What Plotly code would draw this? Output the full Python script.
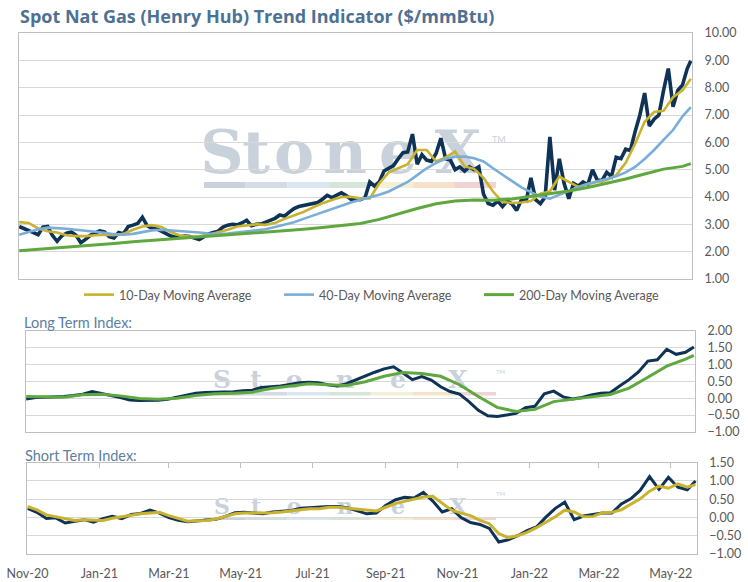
import plotly.graph_objects as go

W, H = 748, 582

# ---------------- data ----------------
dates = [
 "2020-11-01","2020-11-05","2020-11-09","2020-11-13","2020-11-17","2020-11-21","2020-11-25","2020-11-29",
 "2020-12-03","2020-12-07","2020-12-11","2020-12-15","2020-12-19","2020-12-23","2020-12-27","2020-12-31",
 "2021-01-04","2021-01-08","2021-01-12","2021-01-16","2021-01-20","2021-01-24","2021-01-28",
 "2021-02-01","2021-02-05","2021-02-09","2021-02-13","2021-02-17","2021-02-21","2021-02-25",
 "2021-03-01","2021-03-05","2021-03-09","2021-03-13","2021-03-17","2021-03-21","2021-03-25","2021-03-29",
 "2021-04-02","2021-04-06","2021-04-10","2021-04-14","2021-04-18","2021-04-22","2021-04-26","2021-04-30",
 "2021-05-04","2021-05-08","2021-05-12","2021-05-16","2021-05-20","2021-05-24","2021-05-28",
 "2021-06-01","2021-06-05","2021-06-09","2021-06-13","2021-06-17","2021-06-21","2021-06-25","2021-06-29",
 "2021-07-03","2021-07-07","2021-07-11","2021-07-15","2021-07-19","2021-07-23","2021-07-27","2021-07-31",
 "2021-08-04","2021-08-08","2021-08-12","2021-08-16","2021-08-20","2021-08-24","2021-08-28",
 "2021-09-01","2021-09-05","2021-09-09","2021-09-13","2021-09-17","2021-09-21","2021-09-25","2021-09-29",
 "2021-10-03","2021-10-07","2021-10-11","2021-10-15","2021-10-19","2021-10-23","2021-10-27","2021-10-31",
 "2021-11-04","2021-11-08","2021-11-12","2021-11-16","2021-11-20","2021-11-24","2021-11-28",
 "2021-12-02","2021-12-06","2021-12-10","2021-12-14","2021-12-18","2021-12-22","2021-12-26","2021-12-30",
 "2022-01-03","2022-01-07","2022-01-11","2022-01-15","2022-01-19","2022-01-23","2022-01-27","2022-01-31",
 "2022-02-04","2022-02-08","2022-02-12","2022-02-16","2022-02-20","2022-02-24","2022-02-28",
 "2022-03-04","2022-03-08","2022-03-12","2022-03-16","2022-03-20","2022-03-24","2022-03-28",
 "2022-04-01","2022-04-05","2022-04-09","2022-04-13","2022-04-17","2022-04-21","2022-04-25","2022-04-29",
 "2022-05-03","2022-05-07","2022-05-11","2022-05-15","2022-05-19","2022-05-22"]

dates_8 = dates[:-1:2] + [dates[-1]]
dates_16 = dates[:-1:4] + [dates[-1]]

spot = [
 2.92, 2.85, 2.80, 2.70, 2.62, 2.90, 2.92, 2.60, 2.38, 2.58,
 2.68, 2.72, 2.60, 2.33, 2.45, 2.60, 2.68, 2.76, 2.72, 2.55,
 2.50, 2.70, 2.66, 2.92, 2.97, 3.03, 3.26, 2.95, 2.86, 2.83,
 2.75, 2.66, 2.57, 2.53, 2.55, 2.57, 2.55, 2.51, 2.44, 2.55,
 2.65, 2.70, 2.75, 2.90, 2.97, 3.00, 2.98, 3.05, 3.15, 2.95,
 3.00, 3.01, 3.08, 3.15, 3.22, 3.34, 3.30, 3.45, 3.58, 3.65,
 3.68, 3.73, 3.76, 3.80, 3.92, 4.06, 3.98, 4.07, 4.15, 4.05,
 3.92, 3.93, 3.90, 3.98, 4.55, 4.40, 4.55, 4.95, 5.05, 5.15,
 5.40, 5.62, 5.65, 6.30, 5.20, 5.55, 5.35, 5.30, 5.60, 6.15,
 5.40, 5.35, 5.00, 5.10, 4.95, 5.10, 5.00, 5.10, 4.10, 3.76,
 3.70, 3.85, 3.65, 3.85, 3.75, 3.51, 3.90, 3.85, 4.70, 3.90,
 3.76, 4.00, 6.20, 4.25, 5.40, 4.50, 3.94, 4.50, 4.40, 4.55,
 4.45, 5.00, 4.62, 4.60, 4.90, 4.75, 5.45, 5.40, 5.75, 5.70,
 6.40, 7.00, 7.80, 6.60, 6.85, 7.00, 7.90, 8.70, 7.30, 7.90,
 8.10, 8.70, 8.98]

ma10 = [
 3.08, 3.05, 2.85, 2.75, 2.70, 2.60, 2.57, 2.57, 2.60, 2.62,
 2.60, 2.65, 2.80, 2.92, 2.97, 2.90, 2.72, 2.58, 2.55, 2.56,
 2.62, 2.70, 2.80, 2.92, 2.97, 3.00, 2.98, 3.05, 3.20, 3.32,
 3.45, 3.62, 3.77, 3.89, 4.00, 4.01, 3.95, 3.95, 4.50, 4.90,
 5.05, 5.20, 5.72, 5.72, 5.30, 5.45, 5.66, 5.12, 5.03, 4.70,
 4.20, 3.82, 3.78, 3.80, 3.85, 4.12, 4.20, 4.75, 4.55, 4.37,
 4.48, 4.55, 4.62, 4.80, 5.25, 5.95, 6.75, 7.11, 7.15, 7.65,
 7.90, 8.33]

ma40 = [
 2.62, 2.72, 2.82, 2.88, 2.87, 2.84, 2.80, 2.77, 2.73, 2.69,
 2.64, 2.62, 2.65, 2.72, 2.78, 2.80, 2.78, 2.76, 2.74, 2.70,
 2.66, 2.64, 2.66, 2.70, 2.75, 2.79, 2.82, 2.90, 2.98, 3.08,
 3.20, 3.32, 3.45, 3.58, 3.70, 3.80, 3.90, 3.98, 4.08, 4.20,
 4.38, 4.55, 4.80, 5.05, 5.25, 5.40, 5.47, 5.48, 5.42, 5.30,
 5.05, 4.82, 4.58, 4.35, 4.18, 4.02, 3.94, 4.08, 4.24, 4.36,
 4.47, 4.58, 4.66, 4.76, 4.90, 5.10, 5.39, 5.72, 6.09, 6.45,
 6.95, 7.29]

ma200 = [
 2.03, 2.08, 2.13, 2.18, 2.24, 2.30, 2.36, 2.41, 2.46, 2.52,
 2.57, 2.62, 2.67, 2.70, 2.76, 2.82, 2.88, 2.95, 3.03, 3.18,
 3.38, 3.58, 3.75, 3.85, 3.89, 3.88, 3.93, 4.02, 4.12, 4.22,
 4.35, 4.50, 4.66, 4.84, 5.02, 5.12, 5.22]

long_index = [
 -0.02, 0.02, 0.03, 0.03, 0.05, 0.08, 0.12, 0.20, 0.15, 0.08,
 0.02, -0.05, -0.07, -0.07, -0.06, -0.03, 0.03, 0.08, 0.15, 0.17,
 0.17, 0.18, 0.19, 0.22, 0.24, 0.32, 0.34, 0.36, 0.41, 0.46,
 0.47, 0.46, 0.40, 0.36, 0.43, 0.55, 0.66, 0.77, 0.87, 0.93,
 0.75, 0.55, 0.64, 0.54, 0.34, 0.20, 0.12, -0.10, -0.36, -0.52,
 -0.54, -0.50, -0.45, -0.28, -0.24, 0.13, 0.21, 0.04, -0.02, 0.02,
 0.10, 0.15, 0.16, 0.36, 0.55, 0.78, 1.10, 1.14, 1.45, 1.30,
 1.36, 1.52]

long_ma = [
 0.05, 0.03, 0.03, 0.10, 0.12, 0.07, -0.01, -0.03, 0.00, 0.08,
 0.13, 0.15, 0.18, 0.29, 0.36, 0.43, 0.40, 0.38, 0.49, 0.65,
 0.76, 0.73, 0.65, 0.40, 0.05, -0.27, -0.39, -0.33, -0.10, -0.02,
 0.04, 0.11, 0.30, 0.62, 0.95, 1.16, 1.27]

short_index = [
 0.25, 0.14, -0.03, -0.01, -0.15, -0.10, -0.06, -0.13, -0.03, 0.03,
 -0.03, 0.08, 0.11, 0.20, 0.12, 0.00, -0.08, -0.12, -0.10, -0.09,
 -0.05, 0.03, 0.13, 0.14, 0.13, 0.10, 0.15, 0.18, 0.19, 0.25,
 0.27, 0.28, 0.30, 0.30, 0.26, 0.18, 0.10, 0.12, 0.33, 0.48,
 0.55, 0.53, 0.69, 0.45, 0.15, 0.24, 0.00, -0.14, -0.19, -0.30,
 -0.67, -0.61, -0.50, -0.36, -0.26, 0.01, 0.25, 0.42, -0.06, 0.04,
 0.07, 0.12, 0.12, 0.37, 0.51, 0.74, 1.12, 0.77, 1.10, 0.83,
 0.76, 1.00]

short_ma = [
 0.30, 0.21, 0.07, 0.02, -0.03, -0.08, -0.06, -0.07, -0.08, -0.02,
 0.03, 0.06, 0.10, 0.13, 0.14, 0.05, -0.03, -0.10, -0.09, -0.08,
 -0.04, 0.03, 0.10, 0.12, 0.12, 0.12, 0.13, 0.15, 0.17, 0.21,
 0.24, 0.24, 0.28, 0.28, 0.25, 0.22, 0.19, 0.18, 0.28, 0.38,
 0.44, 0.51, 0.56, 0.58, 0.38, 0.20, 0.12, 0.05, -0.08, -0.17,
 -0.44, -0.55, -0.50, -0.41, -0.28, -0.14, 0.02, 0.20, 0.15, 0.02,
 0.03, 0.13, 0.14, 0.21, 0.36, 0.51, 0.72, 0.86, 0.80, 0.92,
 0.83, 0.90]

month_ticks = ["2020-11-01", "2021-01-01", "2021-03-01", "2021-05-01", "2021-07-01",
               "2021-09-01", "2021-11-01", "2022-01-01", "2022-03-01", "2022-05-01"]
month_labels = ["Nov-20", "Jan-21", "Mar-21", "May-21", "Jul-21",
                "Sep-21", "Nov-21", "Jan-22", "Mar-22", "May-22"]

title_text = "Spot Nat Gas (Henry Hub) Trend Indicator ($/mmBtu)"
legend_names = ["10-Day Moving Average", "40-Day Moving Average", "200-Day Moving Average"]

# ---------------- style ----------------
NAVY = "#0e3357"
GOLD = "#c9b22e"
BLUE = "#7aadd8"
GREEN = "#5fa83f"
GRID = "#d9d9d9"
BORDER = "#bfbfbf"
TXT = "#595959"
HEAD = "#4d7193"
X_RANGE = ["2020-10-31 20:00", "2022-05-23"]


def px(x):
    return x / W


def py(y):
    return 1 - y / H


fig = go.Figure()

# top chart
fig.add_trace(go.Scatter(x=dates, y=spot, mode="lines", line=dict(color=NAVY, width=3.6),
                         showlegend=False, xaxis="x", yaxis="y"))
fig.add_trace(go.Scatter(x=dates_8, y=ma10, mode="lines", name=legend_names[0],
                         line=dict(color=GOLD, width=2.6), xaxis="x", yaxis="y"))
fig.add_trace(go.Scatter(x=dates_8, y=ma40, mode="lines", name=legend_names[1],
                         line=dict(color=BLUE, width=2.6), xaxis="x", yaxis="y"))
fig.add_trace(go.Scatter(x=dates_16, y=ma200, mode="lines", name=legend_names[2],
                         line=dict(color=GREEN, width=3), xaxis="x", yaxis="y"))

# middle chart
fig.add_trace(go.Scatter(x=dates_8, y=long_index, mode="lines", line=dict(color=NAVY, width=3),
                         showlegend=False, xaxis="x2", yaxis="y2"))
fig.add_trace(go.Scatter(x=dates_16, y=long_ma, mode="lines", line=dict(color=GREEN, width=3),
                         showlegend=False, xaxis="x2", yaxis="y2"))

# bottom chart
fig.add_trace(go.Scatter(x=dates_8, y=short_index, mode="lines", line=dict(color=NAVY, width=3),
                         showlegend=False, xaxis="x3", yaxis="y3"))
fig.add_trace(go.Scatter(x=dates_8, y=short_ma, mode="lines", line=dict(color=GOLD, width=3),
                         showlegend=False, xaxis="x3", yaxis="y3"))
fig.add_trace(go.Scatter(x=[], y=[], mode="lines", showlegend=False, xaxis="x4", yaxis="y3",
                         hoverinfo="skip"))

tickfont = dict(family="Lato", size=12.5, color=TXT)

xcommon = dict(range=X_RANGE, type="date", showgrid=False, showline=True, mirror=True,
               linecolor=BORDER, linewidth=1, zeroline=False, automargin=False)
ycommon = dict(side="right", showgrid=True, gridcolor=GRID, gridwidth=1, showline=True,
               mirror=True, linecolor=BORDER, linewidth=1, zeroline=False, ticks="",
               tickformat=".2f", tickfont=tickfont, automargin=False, ticklabelstandoff=9)

fig.update_layout(
    width=W, height=H,
    margin=dict(l=0, r=0, t=0, b=0),
    paper_bgcolor="white", plot_bgcolor="white",
    font=dict(family="Lato", color=TXT),
    xaxis=dict(xcommon, domain=[px(19), px(692)], anchor="y", showticklabels=False, ticks=""),
    yaxis=dict(ycommon, domain=[py(279), py(33)], anchor="x", range=[1, 10], dtick=1),
    xaxis2=dict(xcommon, domain=[px(26), px(695)], anchor="y2", showticklabels=False, ticks=""),
    yaxis2=dict(ycommon, domain=[py(432), py(330.7)], anchor="x2", range=[-1, 2], dtick=0.5),
    xaxis3=dict(xcommon, domain=[px(27.3), px(696.7)], anchor="y3", tickmode="array",
                tickvals=month_ticks, ticktext=month_labels, ticks="", tickfont=tickfont,
                ticklabelstandoff=8),
    xaxis4=dict(range=X_RANGE, type="date", domain=[px(27.3), px(696.7)], anchor="y3",
                overlaying="x3", side="top", tickmode="array", tickvals=month_ticks[1:],
                ticks="inside", ticklen=5, tickcolor=BORDER, showticklabels=False,
                showgrid=False, showline=False, zeroline=False, automargin=False),
    yaxis3=dict(ycommon, domain=[py(554), py(462.7)], anchor="x3", range=[-1, 1.5], dtick=0.5),
    legend=dict(orientation="h", x=px(79), xanchor="left", y=py(295), yanchor="middle",
                font=dict(family="Lato", size=12.5, color=TXT), entrywidth=155,
                entrywidthmode="pixels", bgcolor="rgba(0,0,0,0)", tracegroupgap=0),
    showlegend=True,
)

annotations = [
    dict(text="<b>" + title_text + "</b>", x=px(18), y=py(16), xref="paper", yref="paper",
         xanchor="left", yanchor="middle", showarrow=False,
         font=dict(family="Open Sans", size=18, color=HEAD)),
    dict(text="Long Term Index:", x=px(22), y=py(322), xref="paper", yref="paper",
         xanchor="left", yanchor="middle", showarrow=False,
         font=dict(family="Lato", size=14.5, color="#5b80a1")),
    dict(text="Short Term Index:", x=px(23), y=py(455), xref="paper", yref="paper",
         xanchor="left", yanchor="middle", showarrow=False,
         font=dict(family="Lato", size=14.5, color="#5b80a1")),
]

# StoneX watermark (decoration, drawn below the data)
WM = "#c9d1db"
letters = ["S", "t", "o", "n", "e", "X"]
letter_cx = [222, 256, 294, 345, 398, 458]
shapes = []
for (cy, size, tm_y, tm_size, bar_y0, bar_y1) in [(148, 60, 132, 9, 182, 188),
                                                  (377, 25, 371, 6, 392, 395.5),
                                                  (505, 22, 499, 6, 517, 520)]:
    for ch, cx in zip(letters, letter_cx):
        shapes.append(dict(type="rect", xref="paper", yref="paper",
                           x0=px(cx - 30), x1=px(cx + 30), y0=py(cy + 30), y1=py(cy - 30),
                           line=dict(width=0), fillcolor="rgba(0,0,0,0)", layer="below",
                           label=dict(text=ch, textposition="middle center",
                                      font=dict(family="DejaVu Serif", size=size, color=WM,
                                                weight="bold"))))
    annotations.append(dict(text="TM", x=px(508), y=py(tm_y), xref="paper", yref="paper",
                            showarrow=False, font=dict(family="Lato", size=tm_size, color=WM)))
    bar_colors = ["#c9d1db", "#d3dbe5", "#dbe7f0", "#d6e5d7", "#f4f0d8", "#f6e2c9", "#f0d3d3"]
    for k, c in enumerate(bar_colors):
        x0 = 204 + k * 41.7
        shapes.append(dict(type="rect", xref="paper", yref="paper",
                           x0=px(x0), x1=px(x0 + 41.7), y0=py(bar_y1), y1=py(bar_y0),
                           line=dict(width=0), fillcolor=c, layer="below"))

fig.update_layout(annotations=annotations, shapes=shapes)

# remove the default 8px page margin so the 748x582 figure fills the window exactly
fig.write_html("out.html", config={"displayModeBar": False},
               post_script="document.body.style.margin='0px';")
